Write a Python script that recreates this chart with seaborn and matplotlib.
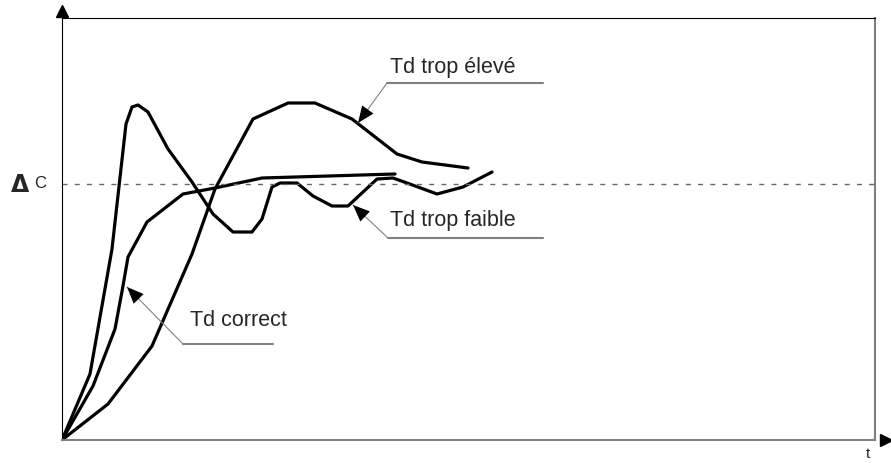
import matplotlib
matplotlib.use("Agg")
import matplotlib.pyplot as plt
import numpy as np
import pandas as pd
import seaborn as sns

# response curves (t, response) - delta C reached at 256
t_faible = [0, 28, 50, 64, 70, 76, 86, 106, 130, 151, 171, 190, 200, 210, 218, 235,
            251, 270, 286, 315, 331, 345, 375, 401, 430]
y_faible = [0, 66, 191, 316, 333, 335, 328, 291, 258, 226, 208, 208, 221, 253, 257, 257,
            244, 234, 234, 261, 262, 257, 246, 253, 268]

t_correct = [0, 31, 48, 53, 61, 66, 85, 121, 153, 200, 333]
y_correct = [0, 54, 98, 111, 154, 183, 218, 246, 252, 262, 266]

t_eleve = [0, 46, 90, 130, 153, 191, 226, 253, 290, 335, 360, 406]
y_eleve = [0, 36, 94, 186, 251, 321, 337, 337, 321, 286, 278, 272]

delta_c = 256
labels = ["Td trop faible", "Td correct", "Td trop élevé"]

df = pd.concat([
    pd.DataFrame({"t": t_faible, "y": y_faible, "curve": labels[0]}),
    pd.DataFrame({"t": t_correct, "y": y_correct, "curve": labels[1]}),
    pd.DataFrame({"t": t_eleve, "y": y_eleve, "curve": labels[2]}),
])

sns.set_style("white")
plt.rcParams["font.family"] = ["Liberation Sans", "DejaVu Sans"]

fig = plt.figure(figsize=(8.91, 4.64), dpi=100)
ax = fig.add_axes([62 / 891, 23 / 464, 813 / 891, 422 / 464])

sns.lineplot(data=df, x="t", y="y", hue="curve", units="curve", estimator=None,
             sort=False, palette=["black"] * 3, linewidth=2.3, legend=False, ax=ax)

ax.axhline(delta_c, color="#666666", lw=1, dashes=(3.6, 5.2))

ax.set_xlim(0, 813)
ax.set_ylim(0, 422)
ax.set(xticks=[], yticks=[], xlabel="", ylabel="")
for side, col, lw in [("top", "black", 0.8), ("left", "black", 0.8),
                      ("bottom", "#808080", 1.5), ("right", "#808080", 1.5)]:
    ax.spines[side].set_visible(True)
    ax.spines[side].set_color(col)
    ax.spines[side].set_linewidth(lw)

# axis arrows
ax.plot([0], [1.016], marker="^", color="black", ms=8, transform=ax.transAxes, clip_on=False)
ax.plot([1.014], [0.0], marker=">", color="black", ms=8, transform=ax.transAxes, clip_on=False)
ax.text(806, -17, "t", fontsize=11, ha="center", va="baseline")

# delta C label
ax.text(-51, delta_c, "Δ", family="DejaVu Sans", weight="bold", fontsize=17,
        ha="left", va="center")
ax.text(-28, delta_c + 1, "C", fontsize=12, ha="left", va="center", color="#222222")

# annotations: (text pos, corner, end of underline, arrow tip)
annots = [
    (labels[2], (328, 368), (325, 357), (481, 357), (296, 317)),
    (labels[0], (328, 215), (326, 202), (481, 202), (291, 235)),
    (labels[1], (128, 115), (121, 96), (211, 96), (65, 153)),
]
for txt, tpos, corner, end, tip in annots:
    ax.text(tpos[0], tpos[1], txt, fontsize=15.5, ha="left", va="baseline")
    ax.plot([corner[0], end[0]], [corner[1], end[1]], color="#808080", lw=1.5)
    ax.plot([corner[0], tip[0]], [corner[1], tip[1]], color="#808080", lw=0.8)
    back = (tip[0] + (corner[0] - tip[0]) * 0.3, tip[1] + (corner[1] - tip[1]) * 0.3)
    ax.annotate("", xy=tip, xytext=back,
                arrowprops=dict(arrowstyle="-|>,head_length=0.6,head_width=0.25",
                                color="black", lw=0, shrinkA=0, shrinkB=0,
                                mutation_scale=20))

fig.savefig("out.png", dpi=100)
